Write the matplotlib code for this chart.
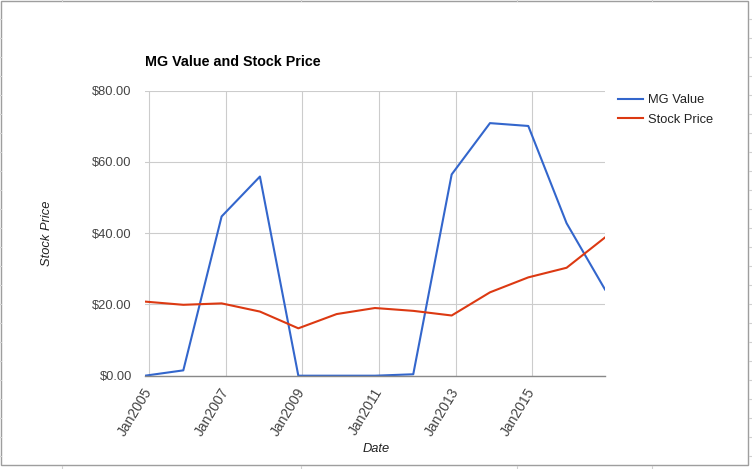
import matplotlib
matplotlib.use("Agg")
import matplotlib.pyplot as plt
import matplotlib.dates as mdates
from matplotlib.lines import Line2D
from matplotlib.patches import Rectangle
import pandas as pd

# donnees
dates = ["2004-11-24", "2005-11-24", "2006-11-24", "2007-11-24", "2008-11-24",
         "2009-11-24", "2010-11-24", "2011-11-24", "2012-11-24", "2013-11-24",
         "2014-11-24", "2015-11-24", "2016-11-24"]
mg_value = [0.0, 1.5, 44.7, 55.9, 0.0, 0.0, 0.0, 0.4, 56.5, 70.9, 70.1, 42.8, 24.2]
stock_price = [20.8, 19.9, 20.3, 18.0, 13.3, 17.3, 19.0, 18.2, 16.9, 23.4, 27.6, 30.3, 38.8]
tick_years = [2005, 2007, 2009, 2011, 2013, 2015]
y_ticks = [0, 20, 40, 60, 80]

plt.rcParams["font.family"] = ["Liberation Sans", "DejaVu Sans"]

W, H = 752, 469
fig = plt.figure(figsize=(W / 100, H / 100), dpi=100)


def fx(px):
    return px / W


def fy(py):
    return 1 - py / H


# fond type tableur : cadre gris et traits des cellules
fig.add_artist(Rectangle((fx(1), fy(465)), fx(747), 464 / H, transform=fig.transFigure,
                         fill=False, edgecolor="#9e9e9e", lw=1.0))
for xc in [62, 301, 517, 652]:
    fig.add_artist(Line2D([fx(xc), fx(xc)], [fy(0), fy(1)], color="#d0d0d0", lw=0.8))
    fig.add_artist(Line2D([fx(xc), fx(xc)], [fy(466), fy(469)], color="#d0d0d0", lw=0.8))
for yr in range(19, 469, 19):
    fig.add_artist(Line2D([fx(749), fx(752)], [fy(yr), fy(yr)], color="#d0d0d0", lw=0.8))
    fig.add_artist(Line2D([fx(0), fx(0.8)], [fy(yr), fy(yr)], color="#d0d0d0", lw=0.8))

ax = fig.add_axes([fx(145), fy(375.7), fx(605) - fx(145), (375.7 - 90.7) / H])

x = pd.to_datetime(dates)
ax.plot(x, mg_value, color="#3366cc", lw=1.5, label="MG Value", zorder=3)
ax.plot(x, stock_price, color="#dc3912", lw=1.5, label="Stock Price", zorder=3)

ax.set_xlim(x[0], x[-1])
ax.set_ylim(0, 80)

ax.set_yticks(y_ticks)
ax.set_yticklabels([f"${v:.2f}" for v in y_ticks])
tick_dates = pd.to_datetime([f"{y}-01-01" for y in tick_years])
ax.set_xticks(mdates.date2num(tick_dates))
ax.set_xticklabels([f"Jan{y}" for y in tick_years], rotation=59, ha="right",
                   va="center", rotation_mode="anchor")

ax.tick_params(axis="both", length=0, labelcolor="#444444")
ax.tick_params(axis="y", pad=9.5, labelsize=9.3)
ax.tick_params(axis="x", pad=9.5, labelsize=10)

ax.grid(True, color="#cccccc", lw=0.8)
ax.set_axisbelow(True)
for side in ["top", "right", "left"]:
    ax.spines[side].set_visible(False)
ax.spines["bottom"].set_color("#888888")
ax.spines["bottom"].set_linewidth(1.0)
ax.spines["bottom"].set_zorder(4)

fig.text(fx(145), fy(62), "MG Value and Stock Price", fontsize=10.3, fontweight="bold",
         color="#000000", ha="left", va="center")
fig.text(fx(47), fy(233), "Stock Price", fontsize=9.3, style="italic", color="#222222",
         rotation=90, ha="center", va="center")
fig.text(fx(376), fy(449), "Date", fontsize=9.3, style="italic", color="#222222",
         ha="center", va="center")

fig.legend(loc="upper left", bbox_to_anchor=(fx(618), fy(94)), frameon=False,
           fontsize=9.3, handlelength=1.9, handletextpad=0.4, labelspacing=0.6,
           borderpad=0, borderaxespad=0, labelcolor="#222222")

fig.savefig("out.png", dpi=100)
